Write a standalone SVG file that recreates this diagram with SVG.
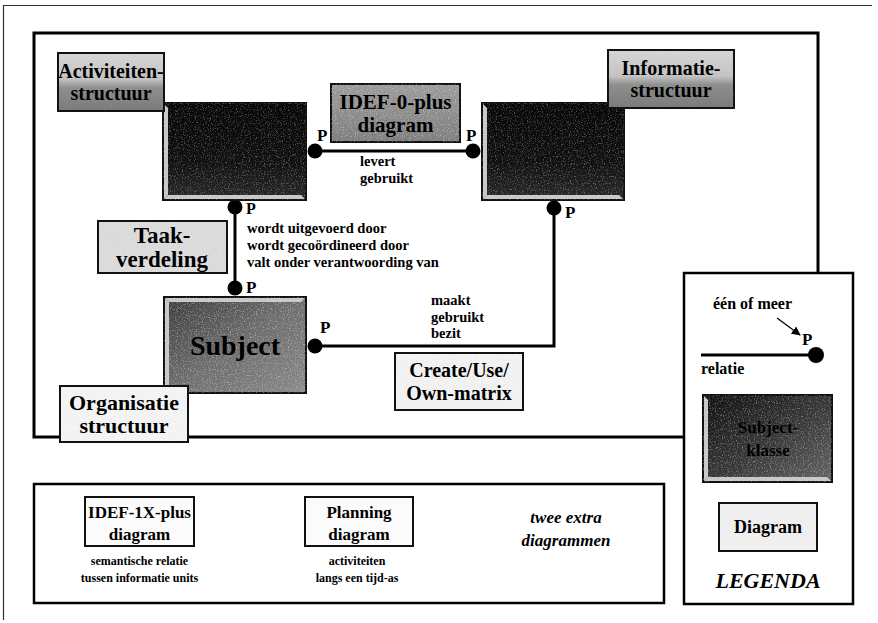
<svg xmlns="http://www.w3.org/2000/svg" width="878" height="623" viewBox="0 0 878 623">
  <defs>
    <style>
      .frame { fill: none; stroke: #000; stroke-width: 3; }
      .panel { fill: #fff; stroke: #000; stroke-width: 2.5; }
      .lbl { font-family: "Liberation Serif", "Times New Roman", serif; font-weight: bold; fill: #000; }
      .big { font-size: 20px; }
      .mid { font-size: 17px; }
      .small { font-size: 14.5px; }
      .tiny { font-size: 12px; }
      .ital { font-style: italic; }
      .rel { fill: none; stroke: #000; stroke-width: 3; }
      .dot { fill: #000; }
      .box { stroke: #111; stroke-width: 2; }
      .bevel { fill: #c9c9c9; }
    </style>
    <linearGradient id="gTop" x1="0" y1="0" x2="0" y2="1">
      <stop offset="0" stop-color="#d6d6d6"/>
      <stop offset="0.45" stop-color="#c4c4c4"/>
      <stop offset="0.6" stop-color="#8e8e8e"/>
      <stop offset="1" stop-color="#7a7a7a"/>
    </linearGradient>
    <linearGradient id="gMid" x1="0" y1="0" x2="0" y2="1">
      <stop offset="0" stop-color="#9c9c9c"/>
      <stop offset="1" stop-color="#7e7e7e"/>
    </linearGradient>
    <linearGradient id="gSubject" x1="0" y1="0" x2="1" y2="1">
      <stop offset="0" stop-color="#3c3c3c"/>
      <stop offset="0.5" stop-color="#6e6e6e"/>
      <stop offset="1" stop-color="#8a8a8a"/>
    </linearGradient>
    <linearGradient id="gLegend" x1="0" y1="0" x2="1" y2="1">
      <stop offset="0" stop-color="#111"/>
      <stop offset="0.55" stop-color="#3a3a3a"/>
      <stop offset="1" stop-color="#666"/>
    </linearGradient>
    <linearGradient id="gDark" x1="0" y1="0" x2="0" y2="1">
      <stop offset="0" stop-color="#070707"/>
      <stop offset="0.6" stop-color="#101010"/>
      <stop offset="1" stop-color="#2a2a2a"/>
    </linearGradient>
    <!-- halftone-like speckle used on the filled boxes -->
    <filter id="grain" x="0" y="0" width="100%" height="100%">
      <feTurbulence type="fractalNoise" baseFrequency="0.85" numOctaves="2" seed="4" result="n"/>
      <feColorMatrix in="n" type="matrix" values="0 0 0 0 0.75  0 0 0 0 0.75  0 0 0 0 0.75  0 0 0 4 -2.1"/>
      <feComposite operator="in" in2="SourceGraphic"/>
    </filter>
    <filter id="grainLight" x="0" y="0" width="100%" height="100%">
      <feTurbulence type="fractalNoise" baseFrequency="0.9" numOctaves="2" seed="9" result="n"/>
      <feColorMatrix in="n" type="matrix" values="0 0 0 0 0.4  0 0 0 0 0.4  0 0 0 0 0.4  0 0 0 3 -1.8"/>
      <feComposite operator="in" in2="SourceGraphic"/>
    </filter>
    <marker id="arrow" viewBox="0 0 10 10" refX="9" refY="5" markerWidth="7" markerHeight="7" orient="auto">
      <path d="M0,0 L10,5 L0,10 z" fill="#000"/>
    </marker>
  </defs>

  <rect width="878" height="623" fill="#fff"/>

  <!-- outer page border -->
  <path d="M3.5,620 V5.5 H872" fill="none" stroke="#333" stroke-width="1.2"/>

  <!-- main panel -->
  <rect class="frame" x="34" y="33" width="784" height="404"/>

  <!-- connectors -->
  <g id="connectors">
    <line class="rel" x1="315" y1="151" x2="473" y2="151"/>
    <circle class="dot" cx="315" cy="151" r="7.5"/>
    <circle class="dot" cx="473" cy="151" r="7.5"/>
    <text class="lbl mid" x="317" y="141">P</text>
    <text class="lbl mid" x="466" y="141">P</text>
    <text class="lbl small" x="360" y="166">levert</text>
    <text class="lbl small" x="360" y="183">gebruikt</text>

    <line class="rel" x1="235" y1="207" x2="235" y2="288"/>
    <circle class="dot" cx="235" cy="207" r="7.5"/>
    <circle class="dot" cx="235" cy="288" r="7.5"/>
    <text class="lbl" font-size="16" x="246" y="214">P</text>
    <text class="lbl mid" x="246" y="293">P</text>
    <text class="lbl small" x="247" y="233">wordt uitgevoerd door</text>
    <text class="lbl small" x="247" y="250">wordt gecoördineerd door</text>
    <text class="lbl small" x="247" y="267">valt onder verantwoording van</text>

    <path class="rel" d="M315,346 H554 V208"/>
    <circle class="dot" cx="315" cy="346" r="7.5"/>
    <circle class="dot" cx="554" cy="208" r="7.5"/>
    <text class="lbl mid" x="320" y="333">P</text>
    <text class="lbl mid" x="565" y="218">P</text>
    <text class="lbl small" x="431" y="305">maakt</text>
    <text class="lbl small" x="431" y="322">gebruikt</text>
    <text class="lbl small" x="431" y="338">bezit</text>
  </g>

  <!-- Activiteiten-structuur -->
  <g id="activiteiten">
    <rect x="163" y="103" width="143" height="97" fill="url(#gDark)" class="box"/>
    <rect x="163" y="103" width="143" height="97" fill="#fff" filter="url(#grain)" opacity="0.35"/>
    <path class="bevel" d="M164,104 L168,108 L168,195 L164,199 Z"/>
    <path class="bevel" d="M164,199 L168,195 L301,195 L305,199 Z"/>
    <rect x="58" y="53" width="106" height="58" fill="url(#gTop)" class="box"/>
    <rect x="58" y="53" width="106" height="58" fill="#fff" filter="url(#grainLight)" opacity="0.3"/>
    <text class="lbl big" x="111" y="78" text-anchor="middle">Activiteiten-</text>
    <text class="lbl big" x="111" y="100" text-anchor="middle" fill="#1a1a1a">structuur</text>
  </g>

  <!-- IDEF-0-plus diagram -->
  <g id="idef0">
    <rect x="331" y="84" width="129" height="58" fill="url(#gMid)" class="box"/>
    <rect x="331" y="84" width="129" height="58" fill="#fff" filter="url(#grain)" opacity="0.45"/>
    <text class="lbl" font-size="21" x="395.5" y="109" text-anchor="middle">IDEF-0-plus</text>
    <text class="lbl" font-size="21" x="395.5" y="132" text-anchor="middle">diagram</text>
  </g>

  <!-- Informatie-structuur -->
  <g id="informatie">
    <rect x="482" y="103" width="142" height="97" fill="url(#gDark)" class="box"/>
    <rect x="482" y="103" width="142" height="97" fill="#fff" filter="url(#grain)" opacity="0.35"/>
    <path class="bevel" d="M483,104 L487,108 L487,195 L483,199 Z"/>
    <path class="bevel" d="M483,199 L487,195 L619,195 L623,199 Z"/>
    <rect x="608" y="50" width="126" height="58" fill="url(#gTop)" class="box"/>
    <rect x="608" y="50" width="126" height="58" fill="#fff" filter="url(#grainLight)" opacity="0.3"/>
    <text class="lbl big" x="671" y="75" text-anchor="middle">Informatie-</text>
    <text class="lbl big" x="671" y="97" text-anchor="middle" fill="#1a1a1a">structuur</text>
  </g>

  <!-- Taak-verdeling -->
  <g id="taakverdeling">
    <rect x="98" y="221" width="129" height="52" fill="#dcdcdc" class="box"/>
    <rect x="98" y="221" width="129" height="52" fill="#fff" filter="url(#grainLight)" opacity="0.35"/>
    <text class="lbl" font-size="23" x="162" y="243" text-anchor="middle">Taak-</text>
    <text class="lbl" font-size="23" x="162" y="267" text-anchor="middle">verdeling</text>
  </g>

  <!-- Subject -->
  <g id="subject">
    <rect x="164" y="297" width="142" height="96" fill="url(#gSubject)" class="box"/>
    <rect x="164" y="297" width="142" height="96" fill="#fff" filter="url(#grain)" opacity="0.45"/>
    <path class="bevel" d="M165,298 L169,302 L169,388 L165,392 Z"/>
    <path class="bevel" d="M165,298 L169,302 L301,302 L305,298 Z"/>
    <text class="lbl" x="235" y="355" text-anchor="middle" font-size="28" fill="#2a2a2a">Subject</text>
  </g>

  <!-- Organisatie structuur -->
  <g id="organisatie">
    <rect x="60" y="386" width="128" height="56" fill="#f4f4f4" class="box"/>
    <rect x="60" y="386" width="128" height="56" fill="#fff" filter="url(#grainLight)" opacity="0.25"/>
    <text class="lbl" font-size="22" x="124" y="410" text-anchor="middle">Organisatie</text>
    <text class="lbl" font-size="22" x="124" y="433" text-anchor="middle">structuur</text>
  </g>

  <!-- Create/Use/Own-matrix -->
  <g id="cuo">
    <rect x="395" y="353" width="128" height="57" fill="#f2f2f2" class="box"/>
    <rect x="395" y="353" width="128" height="57" fill="#fff" filter="url(#grainLight)" opacity="0.25"/>
    <text class="lbl big" x="459" y="377" text-anchor="middle">Create/Use/</text>
    <text class="lbl big" x="459" y="400" text-anchor="middle">Own-matrix</text>
  </g>

  <!-- extra diagrams panel -->
  <g id="extra">
    <rect class="panel" x="34" y="484" width="630" height="119"/>
    <g id="idef1x">
      <rect x="85" y="497" width="109" height="49" fill="#fbfbfb" class="box"/>
      <text class="lbl mid" x="139.5" y="518" text-anchor="middle">IDEF-1X-plus</text>
      <text class="lbl mid" x="139.5" y="540" text-anchor="middle">diagram</text>
      <text class="lbl tiny" x="139.5" y="565" text-anchor="middle">semantische relatie</text>
      <text class="lbl tiny" x="139.5" y="582" text-anchor="middle">tussen informatie units</text>
    </g>
    <g id="planning">
      <rect x="305" y="497" width="108" height="49" fill="#fbfbfb" class="box"/>
      <text class="lbl mid" x="359" y="518" text-anchor="middle">Planning</text>
      <text class="lbl mid" x="359" y="540" text-anchor="middle">diagram</text>
      <text class="lbl tiny" x="357" y="565" text-anchor="middle">activiteiten</text>
      <text class="lbl tiny" x="357" y="582" text-anchor="middle">langs een tijd-as</text>
    </g>
    <text class="lbl mid ital" x="566" y="523" text-anchor="middle">twee extra</text>
    <text class="lbl mid ital" x="566" y="546" text-anchor="middle">diagrammen</text>
  </g>

  <!-- legend panel, drawn over the corner of the main panel -->
  <g id="legenda">
    <rect class="panel" x="684" y="273" width="169" height="331"/>
    <text class="lbl" font-size="16" x="713" y="309">één of meer</text>
    <line x1="777" y1="318" x2="800" y2="335" stroke="#000" stroke-width="1.3" marker-end="url(#arrow)"/>
    <text class="lbl mid" x="802" y="345">P</text>
    <line class="rel" x1="701" y1="355" x2="815" y2="355"/>
    <circle class="dot" cx="816" cy="355" r="8"/>
    <text class="lbl" font-size="16" x="701" y="374">relatie</text>
    <g id="legend-node">
      <rect x="703" y="395" width="129" height="87" fill="url(#gLegend)" class="box"/>
      <rect x="703" y="395" width="129" height="87" fill="#fff" filter="url(#grain)" opacity="0.4"/>
      <path class="bevel" d="M704,396 L708,400 L708,477 L704,481 Z"/>
      <path class="bevel" d="M704,481 L708,477 L827,477 L831,481 Z"/>
      <text class="lbl mid" x="768" y="433" text-anchor="middle" fill="#444">Subject-</text>
      <text class="lbl mid" x="768" y="456" text-anchor="middle" fill="#444">klasse</text>
    </g>
    <g id="legend-diagram">
      <rect x="719" y="503" width="98" height="48" fill="#efefef" class="box"/>
      <text class="lbl" font-size="18" x="768" y="533" text-anchor="middle">Diagram</text>
    </g>
    <text class="lbl ital" x="768" y="588" text-anchor="middle" font-size="22">LEGENDA</text>
  </g>
</svg>
